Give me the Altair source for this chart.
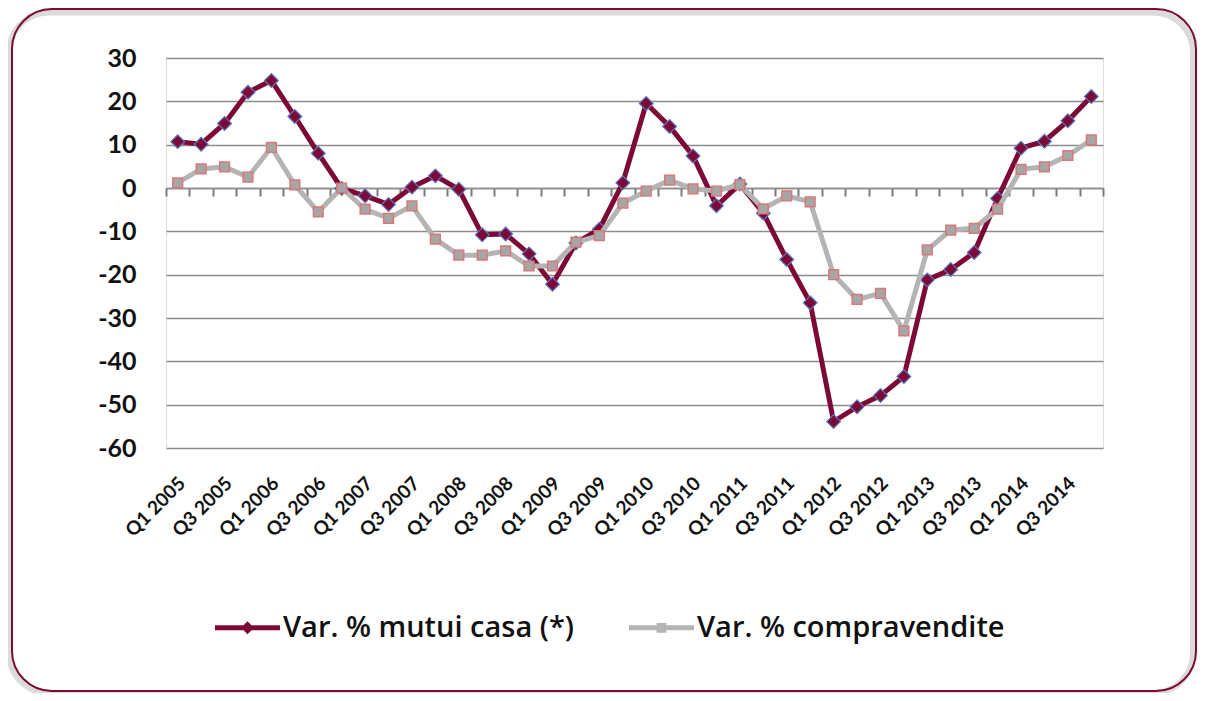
import altair as alt
import pandas as pd

years = [2005, 2006, 2007, 2008, 2009, 2010, 2011, 2012, 2013, 2014]
quarter_names = ["Q1", "Q2", "Q3", "Q4"]
quarters = [f"{q} {y}" for y in years for q in quarter_names]

series_names = ["Var. % mutui casa (*)", "Var. % compravendite"]

mutui = [10.7, 10.1, 14.9, 22.1, 24.8, 16.5, 8.0, -0.1,
         -1.8, -3.8, 0.2, 2.8, -0.3, -10.8, -10.6, -15.2,
         -22.2, -12.7, -9.5, 1.2, 19.5, 14.2, 7.4, -4.1,
         0.9, -5.8, -16.5, -26.5, -53.9, -50.5, -47.9, -43.5,
         -21.2, -18.8, -14.9, -2.4, 9.2, 10.8, 15.5, 21.1]
compra = [1.2, 4.4, 4.9, 2.5, 9.4, 0.7, -5.5, 0.0,
          -4.9, -7.0, -4.1, -11.8, -15.5, -15.5, -14.5, -18.0,
          -18.0, -12.5, -11.0, -3.5, -0.7, 1.8, -0.2, -0.7,
          0.8, -4.8, -1.8, -3.2, -20.0, -25.7, -24.3, -33.0,
          -14.3, -9.7, -9.3, -4.9, 4.3, 4.9, 7.5, 11.1]

y_ticks = [-60, -50, -40, -30, -20, -10, 0, 10, 20, 30]

MAROON = "#7d0a36"
GRAY = "#b4b4b4"
GRID = "#8c8c8c"

rows = []
for i, q in enumerate(quarters):
    rows.append({"quarter": q, "series": series_names[0], "value": mutui[i]})
    rows.append({"quarter": q, "series": series_names[1], "value": compra[i]})
df = pd.DataFrame(rows)

W, H = 937, 390
PAD_L, PAD_T = 158, 50
TOTAL_W, TOTAL_H = 1189, 685

x_enc = alt.X(
    "quarter:N",
    sort=quarters,
    scale=alt.Scale(type="band", domain=quarters, paddingInner=0, paddingOuter=0),
    axis=alt.Axis(
        title=None,
        offset=-260,
        domain=True, domainColor=GRID, domainWidth=1.5,
        ticks=True, tickBand="extent", tickSize=8, tickColor="#7a7a7a", tickWidth=2,
        tickOpacity=1,
        grid=False,
        labelAngle=315, labelAlign="right", labelBaseline="middle",
        labelPadding=284, labelOffset=4,
        labelExpr="(substring(datum.label,0,2) == 'Q2' || substring(datum.label,0,2) == 'Q4') ? '' : datum.label",
        labelFont="Lato", labelFontWeight="bold", labelFontSize=19, labelColor="#111111",
        labelOverlap=False, labelBound=False, labelFlush=False,
    ),
)
y_enc = alt.Y(
    "value:Q",
    scale=alt.Scale(domain=[-60, 30], nice=False, zero=False),
    axis=alt.Axis(
        title=None, values=y_ticks, domain=False, ticks=False,
        grid=True, gridColor=GRID, gridWidth=1.5,
        labelExpr="datum.value + ''",
        labelFont="Lato", labelFontWeight="bold", labelFontSize=25,
        labelPadding=30, labelColor="#111111",
    ),
)

base = alt.Chart(df).encode(x=x_enc, y=y_enc)

frame_data = alt.Data(values=[{"k": 1}])
shadow = alt.Chart(frame_data).mark_rect(
    cornerRadius=40, fillOpacity=0, stroke="#999999", strokeWidth=6, strokeOpacity=0.35
).encode(
    x=alt.value(12 - 166 - 3), x2=alt.value(1196 - 166 - 3),
    y=alt.value(8.5 - 58 + 4), y2=alt.value(692 - 58 + 1),
)
frame = alt.Chart(frame_data).mark_rect(
    cornerRadius=40, fillOpacity=0, stroke=MAROON, strokeWidth=2
).encode(
    x=alt.value(12 - 166), x2=alt.value(1196 - 166),
    y=alt.value(9 - 58), y2=alt.value(691 - 58),
)

line_m = base.transform_filter(alt.datum.series == series_names[0]).mark_line(
    color=MAROON, strokeWidth=5)
pts_m = base.transform_filter(alt.datum.series == series_names[0]).mark_point(
    shape="diamond", filled=True, fill=MAROON, stroke="#5a78c0", strokeWidth=1.2,
    size=190, opacity=1)
line_c = base.transform_filter(alt.datum.series == series_names[1]).mark_line(
    color=GRAY, strokeWidth=5)
pts_c = base.transform_filter(alt.datum.series == series_names[1]).mark_point(
    shape="square", filled=True, fill="#a6a6a6", stroke="#d9787a", strokeWidth=1.5,
    size=95, opacity=1)

leg_paths = [
    "M-1,-0.08H1V0.08H-1Z M0,-0.2L0.2,0L0,0.2L-0.2,0Z",
    "M-1,-0.08H1V0.08H-1Z M-0.15,-0.15H0.15V0.15H-0.15Z",
]
legend_def = alt.Legend(
    title=None, orient="none", legendX=49, legendY=537, direction="horizontal",
    columns=2, columnPadding=54, padding=0, labelOffset=3,
    labelFont="Open Sans", labelFontSize=29, labelFontWeight=600, labelColor="#111111",
    symbolSize=4225, symbolStrokeWidth=0, symbolOpacity=1, labelLimit=500,
)
legend_layer = alt.Chart(df).mark_point(filled=True, clip=True, opacity=1).encode(
    x=alt.value(-2000), y=alt.value(-2000),
    color=alt.Color("series:N", scale=alt.Scale(domain=series_names, range=[MAROON, GRAY]),
                    legend=legend_def),
    shape=alt.Shape("series:N", scale=alt.Scale(domain=series_names, range=leg_paths),
                    legend=legend_def),
)

chart = alt.layer(
    shadow, frame, line_m, pts_m, line_c, pts_c, legend_layer
).properties(
    width=W, height=H,
    autosize=alt.AutoSizeParams(type="none"),
    padding={"left": PAD_L, "top": PAD_T, "right": TOTAL_W - PAD_L - W, "bottom": TOTAL_H - PAD_T - H},
).configure_view(stroke=None).configure(background="white")

chart.save("out.html", embed_options={"renderer": "svg", "actions": False})
